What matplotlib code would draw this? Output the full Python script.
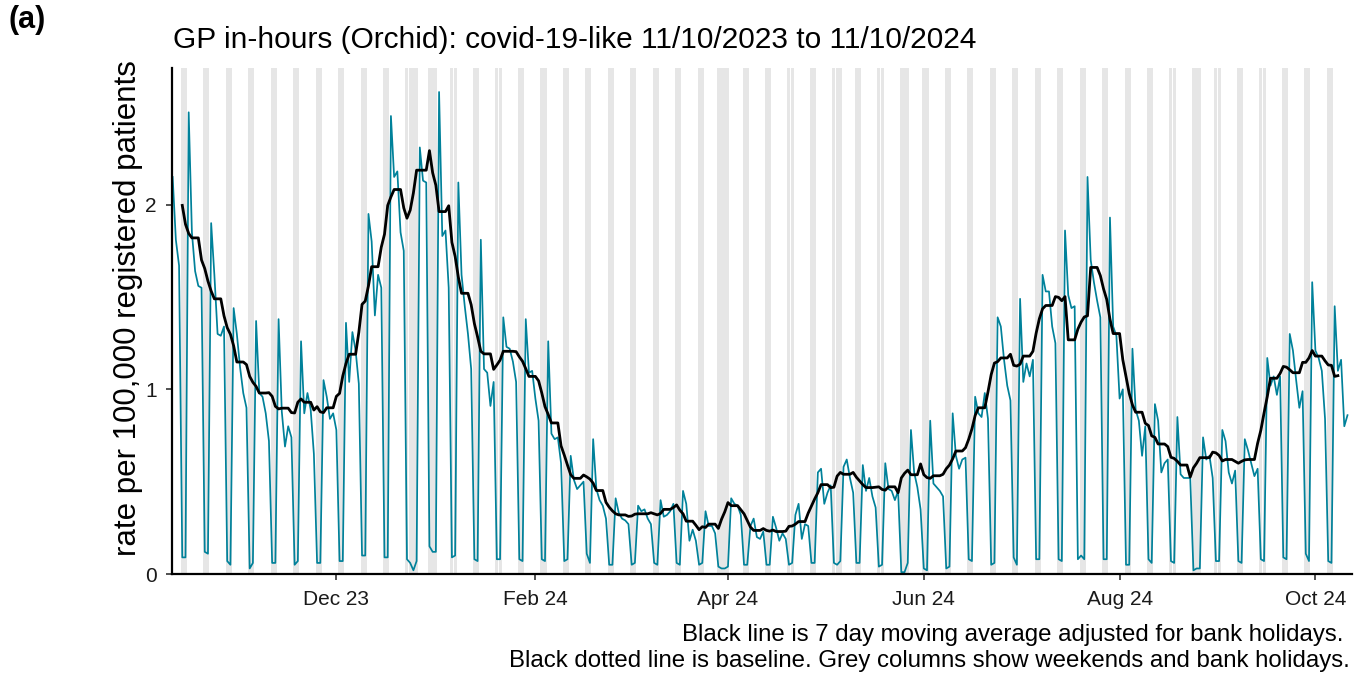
import numpy as np
import pandas as pd
import matplotlib
matplotlib.use("Agg")
import matplotlib.pyplot as plt
import matplotlib.dates as mdates

plt.rcParams['font.family'] = ['Liberation Sans', 'DejaVu Sans']

start_date = "2023-10-11"

# daily rate per 100,000 registered patients, one row per week (Mon..Sun),
# first row starts on Wed 11/10/2023, last row ends on Fri 11/10/2024
rate = [
    2.15, 1.81, 1.67, 0.09, 0.09,
    2.50, 1.85, 1.64, 1.56, 1.55, 0.12, 0.11,
    1.90, 1.62, 1.30, 1.29, 1.34, 0.07, 0.05,
    1.44, 1.30, 1.12, 0.98, 0.90, 0.03, 0.06,
    1.37, 0.98, 0.96, 0.87, 0.72, 0.06, 0.06,
    1.38, 0.88, 0.69, 0.80, 0.74, 0.05, 0.07,
    1.26, 0.87, 0.98, 0.89, 0.65, 0.06, 0.06,
    1.05, 0.96, 0.84, 0.87, 0.78, 0.07, 0.07,
    1.36, 1.04, 1.31, 1.21, 1.03, 0.10, 0.10,
    1.95, 1.80, 1.40, 1.62, 1.55, 0.09, 0.09,
    2.48, 2.15, 2.18, 1.85, 1.75, 0.08, 0.06,
    0.02, 0.07, 2.31, 2.13, 2.12, 0.15, 0.12,
    0.12, 2.61, 1.83, 1.86, 1.55, 0.09, 0.10,
    2.12, 1.62, 1.45, 1.30, 1.11, 0.08, 0.07,
    1.81, 1.11, 1.09, 0.91, 1.04, 0.08, 0.08,
    1.39, 1.23, 1.22, 1.15, 1.04, 0.08, 0.07,
    1.38, 1.09, 1.10, 0.95, 0.83, 0.08, 0.07,
    1.26, 0.76, 0.73, 0.74, 0.60, 0.07, 0.08,
    0.64, 0.51, 0.46, 0.48, 0.50, 0.11, 0.06,
    0.73, 0.46, 0.40, 0.37, 0.30, 0.05, 0.05,
    0.41, 0.33, 0.30, 0.29, 0.27, 0.05, 0.06,
    0.37, 0.34, 0.35, 0.30, 0.27, 0.06, 0.05,
    0.40, 0.31, 0.32, 0.34, 0.38, 0.06, 0.05,
    0.45, 0.38, 0.18, 0.24, 0.18, 0.05, 0.06,
    0.34, 0.26, 0.26, 0.22, 0.04, 0.03, 0.03,
    0.04, 0.41, 0.38, 0.37, 0.32, 0.05, 0.05,
    0.26, 0.30, 0.20, 0.19, 0.23, 0.05, 0.05,
    0.31, 0.25, 0.18, 0.22, 0.19, 0.05, 0.06,
    0.32, 0.38, 0.19, 0.27, 0.26, 0.06, 0.06,
    0.55, 0.57, 0.38, 0.44, 0.48, 0.06, 0.05,
    0.07, 0.58, 0.62, 0.52, 0.44, 0.06, 0.06,
    0.59, 0.45, 0.52, 0.42, 0.36, 0.04, 0.05,
    0.60, 0.46, 0.45, 0.40, 0.45, 0.01, 0.01,
    0.06, 0.78, 0.55, 0.47, 0.35, 0.03, 0.02,
    0.83, 0.49, 0.47, 0.45, 0.42, 0.03, 0.04,
    0.87, 0.64, 0.57, 0.62, 0.63, 0.08, 0.07,
    0.96, 0.87, 0.85, 0.98, 0.84, 0.05, 0.06,
    1.39, 1.34, 1.16, 1.02, 0.94, 0.09, 0.05,
    1.49, 1.04, 1.14, 1.07, 1.16, 0.08, 0.08,
    1.62, 1.53, 1.53, 1.34, 1.25, 0.08, 0.07,
    1.86, 1.51, 1.44, 1.45, 0.08, 0.10, 0.08,
    2.15, 1.70, 1.58, 1.48, 1.39, 0.08, 0.08,
    1.93, 1.34, 1.29, 0.95, 1.00, 0.05, 0.05,
    1.22, 0.89, 0.83, 0.64, 0.80, 0.08, 0.06,
    0.92, 0.83, 0.55, 0.60, 0.62, 0.07, 0.06,
    0.85, 0.54, 0.52, 0.52, 0.52, 0.02, 0.03,
    0.03, 0.74, 0.62, 0.64, 0.52, 0.07, 0.07,
    0.78, 0.72, 0.55, 0.49, 0.56, 0.07, 0.06,
    0.73, 0.67, 0.60, 0.53, 0.57, 0.08, 0.07,
    1.17, 1.02, 1.07, 0.97, 1.07, 0.09, 0.08,
    1.30, 1.21, 1.05, 0.90, 0.99, 0.11, 0.07,
    1.58, 1.21, 1.17, 1.10, 0.84, 0.07, 0.06,
    1.45, 1.10, 1.16, 0.80, 0.86,
]

bank_holidays = ["2023-12-25", "2023-12-26", "2024-01-01", "2024-03-29",
                 "2024-04-01", "2024-05-06", "2024-05-27", "2024-08-26"]

tick_dates = ["2023-12-01", "2024-02-01", "2024-04-01",
              "2024-06-01", "2024-08-01", "2024-10-01"]
tick_labels = ["Dec 23", "Feb 24", "Apr 24", "Jun 24", "Aug 24", "Oct 24"]

title = "GP in-hours (Orchid): covid-19-like 11/10/2023 to 11/10/2024"
ylab = "rate per 100,000 registered patients"
caption1 = "Black line is 7 day moving average adjusted for bank holidays. "
caption2 = "Black dotted line is baseline. Grey columns show weekends and bank holidays."

dates = pd.date_range(start_date, periods=len(rate), freq="D")
s = pd.Series(rate, index=dates)
off = (dates.dayofweek >= 5) | dates.isin(pd.to_datetime(bank_holidays))

# 7 day centred average over working days only
ma = s.where(~off).rolling(7, center=True, min_periods=1).mean()
ma.iloc[:3] = np.nan
ma.iloc[-3:] = np.nan

x = mdates.date2num(dates)

W, H = 1362, 684
fig = plt.figure(figsize=(W / 100, H / 100), dpi=100)
ax = fig.add_axes([172 / W, 1 - 574 / H, (1352 - 172) / W, (574 - 68) / H])

# grey columns for weekends and bank holidays
for xd in x[off]:
    ax.axvspan(xd - 0.47, xd + 0.47, color="#e6e6e6", lw=0, zorder=0)

ax.plot(x, rate, color="#00819a", lw=1.25, zorder=2)
ax.plot(x, ma.values, color="black", lw=2.0, zorder=3)

ax.set_xlim(x[0] - 0.2, x[0] + 367.4)
ax.set_ylim(0, 2.74)

ax.set_xticks(mdates.date2num(pd.to_datetime(tick_dates)))
ax.set_xticklabels(tick_labels)
ax.set_yticks([0, 1, 2])
ax.set_yticklabels(["0", "1", "2"])
ax.tick_params(axis="both", labelsize=15, length=4, width=1.2,
               color="#333333", labelcolor="#1a1a1a")
ax.tick_params(axis="x", pad=7.5)
ax.tick_params(axis="y", pad=7)

for side in ["top", "right"]:
    ax.spines[side].set_visible(False)
for side in ["left", "bottom"]:
    ax.spines[side].set_linewidth(1.6)
    ax.spines[side].set_color("black")

fig.text(8 / W, 1 - 20 / H, "(a)", fontsize=22, fontweight="bold", va="center", ha="left")
fig.text(173 / W, 1 - 40 / H, title, fontsize=21.5, va="center", ha="left")
fig.text(128 / W, 1 - 308 / H, ylab, fontsize=22.5, rotation=90, va="center", ha="center")
fig.text(1350 / W, 1 - 641 / H, caption1, fontsize=17.3, ha="right", va="baseline")
fig.text(1350 / W, 1 - 667 / H, caption2, fontsize=17.3, ha="right", va="baseline")

fig.savefig("out.png", dpi=100)
